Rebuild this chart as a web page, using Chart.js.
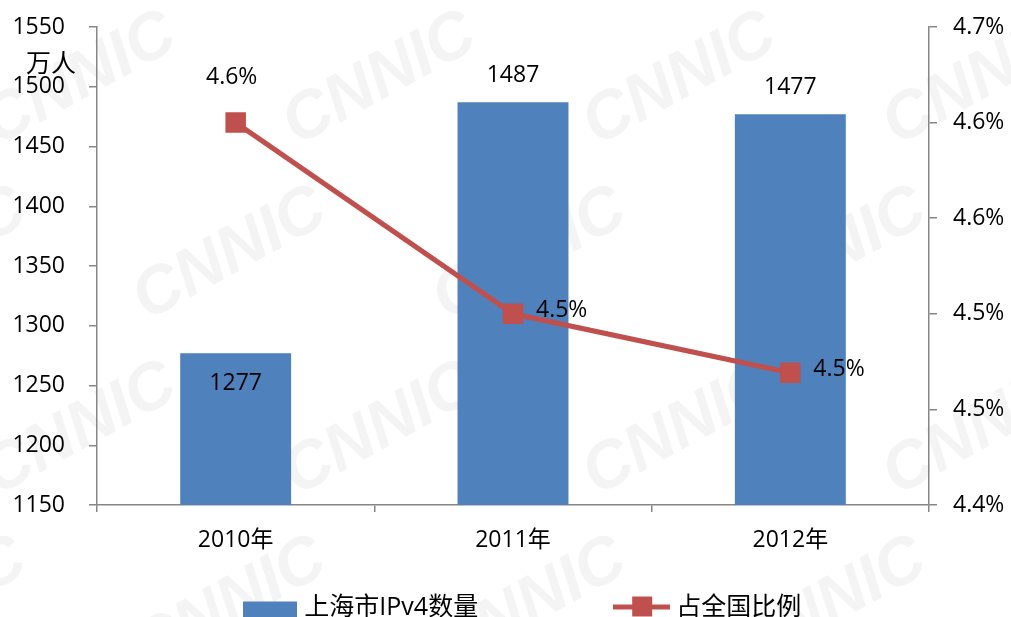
<!DOCTYPE html>
<html>
<head>
<meta charset="utf-8">
<script src="https://cdn.jsdelivr.net/npm/chart.js@4/dist/chart.umd.min.js"></script>
<style>
  html, body { margin: 0; padding: 0; background: #fff; overflow: hidden; }
  #wrap { width: 1011px; height: 640px; }
</style>
</head>
<body>
<div id="wrap"><canvas id="ipChart" width="1011" height="640"></canvas></div>
<script>
const years = ["2010年", "2011年", "2012年"];
const ipv4Count = [1277, 1487, 1477];       // 万人
const shareOfNation = [4.64, 4.52, 4.483];  // %
const leftTicks = { min: 1150, max: 1550, step: 50 };
const rightTicks = { min: 4.4, max: 4.7, step: 0.06 };

const FONT = "'Open Sans', 'Noto Sans CJK SC', sans-serif";
const BLUE = "#4F81BD";
const RED = "#C0504D";
const AXIS = "#868686";

// legend swatches
function swatch(w, draw) {
    const c = document.createElement("canvas");
    c.width = w; c.height = 32;
    draw(c.getContext("2d"));
    return c;
}
const barSwatch = swatch(54, ctx => { ctx.fillStyle = BLUE; ctx.fillRect(0, 10, 54, 22); });
const lineSwatch = swatch(57, ctx => {
    ctx.fillStyle = RED;
    ctx.fillRect(0, 13, 57, 5);
    ctx.fillRect(19, 5, 20, 20);
});

// faint CNNIC background marks
const watermark = {
    id: "watermark",
    beforeDraw(chart) {
        const ctx = chart.ctx;
        ctx.save();
        ctx.fillStyle = "#fff";
        ctx.fillRect(0, 0, chart.width, chart.height);
        ctx.fillStyle = "#f4f4f4";
        ctx.font = "bold italic 66px 'Liberation Sans', sans-serif";
        ctx.textAlign = "center";
        ctx.textBaseline = "middle";
        for (let row = -1; row < 5; row++) {
            for (let col = -1; col < 5; col++) {
                const x = col * 300 + (row % 2 ? 150 : 0) + 80;
                const y = row * 175 + 80;
                ctx.save();
                ctx.translate(x, y);
                ctx.rotate(-0.5);
                ctx.fillText("CNNIC", 0, 0);
                ctx.restore();
            }
        }
        ctx.restore();
    }
};

// nudge the legend a little right of centre, like the original
const legendShift = {
    id: "legendShift",
    afterLayout(chart) {
        chart.legend.left += 19;
        chart.legend.right += 19;
    }
};

// value labels + unit text
const barLabelPlace = ["inside", "above", "above"];
const valueLabels = {
    id: "valueLabels",
    afterDatasetsDraw(chart) {
        const ctx = chart.ctx;
        ctx.save();
        ctx.fillStyle = "#000";
        ctx.font = "23px " + FONT;
        ctx.textBaseline = "middle";

        chart.getDatasetMeta(0).data.forEach((bar, i) => {
            ctx.textAlign = "center";
            const y = barLabelPlace[i] === "inside" ? bar.y + 30 : bar.y - 27;
            ctx.fillText(String(ipv4Count[i]), bar.x, y);
        });

        chart.getDatasetMeta(1).data.forEach((pt, i) => {
            const txt = shareOfNation[i].toFixed(1) + "%";
            if (i === 0) {
                ctx.textAlign = "center";
                ctx.fillText(txt, pt.x - 4, pt.y - 45);
            } else {
                ctx.textAlign = "left";
                ctx.fillText(txt, pt.x + 23, pt.y - 3);
            }
        });

        ctx.textAlign = "left";
        ctx.font = "25px " + FONT;
        ctx.fillText("万人", 26, 65);
        ctx.restore();
    }
};

new Chart(document.getElementById("ipChart"), {
    data: {
        labels: years,
        datasets: [
            {
                type: "bar",
                label: "上海市IPv4数量",
                data: ipv4Count,
                backgroundColor: BLUE,
                yAxisID: "y",
                barPercentage: 0.4,
                categoryPercentage: 1,
                order: 2
            },
            {
                type: "line",
                label: "占全国比例",
                data: shareOfNation,
                borderColor: RED,
                borderWidth: 5,
                pointStyle: "rect",
                pointRadius: 14.5,
                pointBorderWidth: 0,
                pointBackgroundColor: RED,
                yAxisID: "y1",
                tension: 0,
                order: 1
            }
        ]
    },
    options: {
        responsive: false,
        animation: false,
        devicePixelRatio: 1,
        layout: { padding: { top: 27, bottom: 10, left: 0, right: 0 } },
        plugins: {
            tooltip: { enabled: false },
            legend: {
                position: "bottom",
                labels: {
                    usePointStyle: true,
                    pointStyleWidth: 44,
                    boxHeight: 22,
                    padding: 10,
                    color: "#000",
                    font: { family: FONT, size: 25 },
                    generateLabels() {
                        return [
                            { text: "上海市IPv4数量\u3000\u3000\u3000\u3000\u3000 ", pointStyle: barSwatch, datasetIndex: 0, lineWidth: 0, strokeStyle: "transparent", fillStyle: BLUE },
                            { text: "占全国比例", pointStyle: lineSwatch, datasetIndex: 1, lineWidth: 0, strokeStyle: "transparent", fillStyle: RED }
                        ];
                    }
                }
            }
        },
        scales: {
            x: {
                grid: { offset: true, drawOnChartArea: false, drawTicks: true, tickLength: 7, color: AXIS, lineWidth: 1.5 },
                border: { color: AXIS, width: 1.5 },
                ticks: { color: "#000", font: { family: FONT, size: 23 }, padding: 15 },
                afterFit(scale) { scale.height = 80; }
            },
            y: {
                position: "left",
                min: leftTicks.min,
                max: leftTicks.max,
                grid: { drawOnChartArea: false, tickLength: 8, color: AXIS, lineWidth: 1.5 },
                border: { color: AXIS, width: 1.5 },
                ticks: {
                    stepSize: leftTicks.step,
                    color: "#000",
                    font: { family: FONT, size: 23 },
                    padding: 24,
                    callback: v => String(v)
                },
                afterFit(scale) { scale.width = 97; scale.paddingTop = 0; scale.paddingBottom = 0; }
            },
            y1: {
                position: "right",
                min: rightTicks.min,
                max: rightTicks.max,
                grid: { drawOnChartArea: false, tickLength: 8, color: AXIS, lineWidth: 1.5 },
                border: { color: AXIS, width: 1.5 },
                ticks: {
                    stepSize: rightTicks.step,
                    color: "#000",
                    font: { family: FONT, size: 23 },
                    padding: 16,
                    callback: v => v.toFixed(1) + "%"
                },
                afterFit(scale) { scale.width = 82; scale.paddingTop = 0; scale.paddingBottom = 0; }
            }
        }
    },
    plugins: [watermark, legendShift, valueLabels]
});
</script>
</body>
</html>
